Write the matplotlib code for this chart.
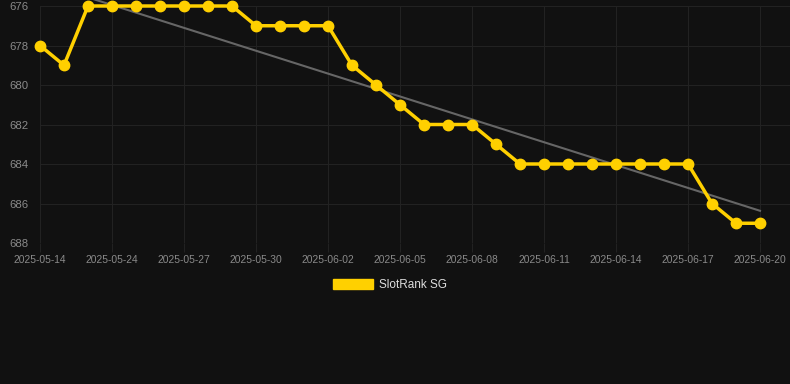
import numpy as np
import matplotlib.pyplot as plt
from matplotlib.patches import Patch

plt.rcParams['font.family'] = ['Liberation Sans', 'DejaVu Sans']

dates = ["2025-05-14", "2025-05-22", "2025-05-23", "2025-05-24", "2025-05-25", "2025-05-26",
         "2025-05-27", "2025-05-28", "2025-05-29", "2025-05-30", "2025-05-31", "2025-06-01",
         "2025-06-02", "2025-06-03", "2025-06-04", "2025-06-05", "2025-06-06", "2025-06-07",
         "2025-06-08", "2025-06-09", "2025-06-10", "2025-06-11", "2025-06-12", "2025-06-13",
         "2025-06-14", "2025-06-15", "2025-06-16", "2025-06-17", "2025-06-18", "2025-06-19",
         "2025-06-20"]
rank = [678, 679, 676, 676, 676, 676, 676, 676, 676, 677, 677, 677, 677, 679, 680, 681,
        682, 682, 682, 683, 684, 684, 684, 684, 684, 684, 684, 684, 686, 687, 687]
series_name = "SlotRank SG"
y_ticks = [676, 678, 680, 682, 684, 686, 688]

bg = '#111111'
grid_c = '#222222'
text_c = '#8a8a8a'
gold = '#FFD000'

fig = plt.figure(figsize=(7.9, 3.84), dpi=100, facecolor=bg)
ax = fig.add_axes([40/790, 141/384, 750/790, 237/384], facecolor=bg)

x = np.arange(len(rank))
# trend line (least squares), not clipped at the top like the original
k, b = np.polyfit(x, rank, 1)
ax.plot(x, k*x + b, color='#666666', lw=1.5, zorder=2, clip_on=False)

ax.plot(x, rank, color=gold, lw=2.5, marker='o', markersize=7.5,
        markerfacecolor=gold, markeredgecolor=gold, zorder=3, clip_on=False)

ax.set_xlim(0, 31.25)
ax.set_ylim(688, 676)
ax.set_yticks(y_ticks)
ax.set_yticklabels([str(v) for v in y_ticks])
ax.set_xticks(x[::3])
ax.set_xticklabels(dates[::3])

ax.grid(True, color=grid_c, lw=0.8)
ax.set_axisbelow(True)
for s in ax.spines.values():
    s.set_visible(False)
ax.tick_params(axis='y', length=0, pad=8, labelsize=8.2, labelcolor=text_c)
ax.tick_params(axis='x', length=6.5, width=0.8, color=grid_c, pad=2,
               labelsize=7.4, labelcolor=text_c)

handle = Patch(facecolor=gold, edgecolor=gold)
fig.legend([handle], [series_name], loc='center', bbox_to_anchor=(390/790, 1 - 285/384),
           frameon=False, fontsize=8.5, labelcolor='#dddddd',
           handlelength=3.4, handleheight=0.95, handletextpad=0.5)

fig.savefig('out.png', dpi=100, facecolor=bg)
